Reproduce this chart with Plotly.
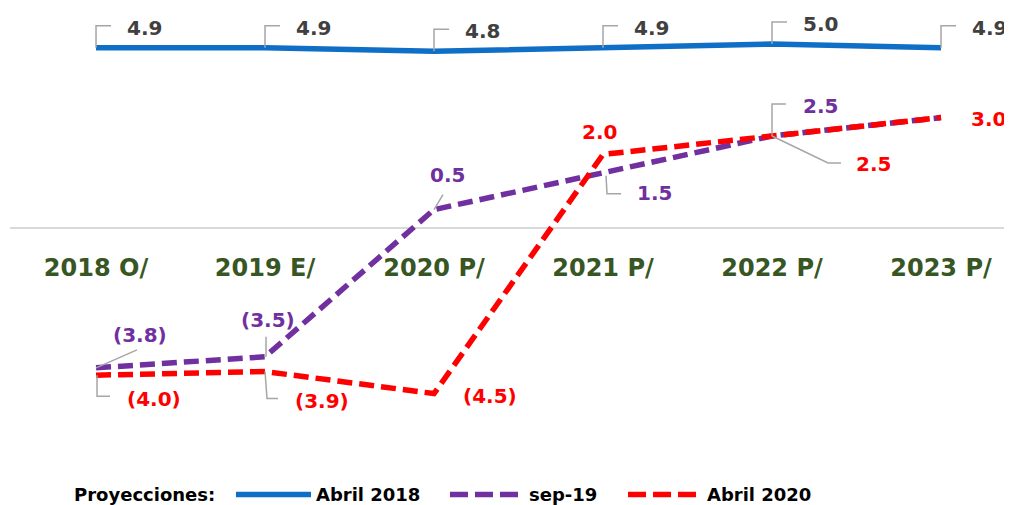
import plotly.graph_objects as go

# ---- data ----
categories = ["2018 O/", "2019 E/", "2020 P/", "2021 P/", "2022 P/", "2023 P/"]
abril_2018 = [4.9, 4.9, 4.8, 4.9, 5.0, 4.9]
sep_19 = [-3.8, -3.5, 0.5, 1.5, 2.5, 3.0]
abril_2020 = [-4.0, -3.9, -4.5, 2.0, 2.5, 3.0]
series_names = ["Abril 2018", "sep-19", "Abril 2020"]
legend_title = "Proyecciones:"

# ---- styles ----
colors = ["#0F6FC6", "#7030A0", "#FF0000"]
label_colors = ["#404040", "#7030A0", "#FF0000"]
dashes = ["solid", "15px,7px", "15px,7px"]
legend_dashes = ["solid", "18px,7px", "18px,7px"]
leader_color = "#A6A6A6"
FONT = "DejaVu Sans"

# label placement per series/point: (dx, dy, xanchor, leader path in px or None); None = no label
blue_lab = [(29, 20, "left", "M0,0 L0,22 L15,22")] * 6
purple_lab = [
    (44, 33, "center", "M0,0 L41,18"),
    (3, 37, "center", "M1,0 L1,20"),
    (13, 35, "center", "M0,0 L9,15"),
    (32, -20, "left", "M3,-3 L4,-21 L18,-21"),
    (29, 30, "left", "M0,0 L0,32 L14,32"),
    None,
]
red_lab = [
    (29, -24, "left", "M1,0 L1,-21 L14,-21"),
    (28, -29, "left", "M0,0 L2,-27 L13,-27"),
    (27, -2, "left", None),
    (-4, 22, "center", None),
    (82, -28, "left", "M0,0 L56,-27 L69,-27"),
    (28, -1, "left", None),
]

# manual legend layout (paper fractions)
leg_y = -0.0533
leg_title_x = 0.0619
leg_line_x = [(0.2255, 0.3004), (0.4391, 0.5090), (0.6168, 0.6886)]
leg_text_x = [0.3034, 0.5160, 0.6936]

series = [abril_2018, sep_19, abril_2020]
labels = [blue_lab, purple_lab, red_lab]
xs = list(range(len(categories)))


def fmt(v):
    return f"({abs(v):.1f})" if v < 0 else f"{v:.1f}"


fig = go.Figure()
for k, (vals, name) in enumerate(zip(series, series_names)):
    fig.add_trace(go.Scatter(
        x=xs, y=vals, name=name, mode="lines",
        line=dict(color=colors[k], width=5.5, dash=dashes[k]),
        hoverinfo="skip", showlegend=False,
    ))

annotations = []
shapes = []
for k, vals in enumerate(series):
    for i, v in enumerate(vals):
        spec = labels[k][i]
        if spec is None:
            continue
        dx, dy, anch, path = spec
        annotations.append(dict(
            x=xs[i], y=v, xref="x", yref="y", text=fmt(v), showarrow=False,
            xshift=dx, yshift=dy, xanchor=anch, yanchor="middle",
            font=dict(family=FONT, size=20, color=label_colors[k], weight="bold"),
        ))
        if path:
            shapes.append(dict(
                type="path", xref="x", yref="y", xsizemode="pixel", ysizemode="pixel",
                xanchor=xs[i], yanchor=v, path=path,
                line=dict(color=leader_color, width=1.5), layer="above",
            ))

# legend (key)
leg_font = dict(family=FONT, size=18, color="black", weight="bold")
annotations.append(dict(x=leg_title_x, y=leg_y, xref="paper", yref="paper", text=legend_title,
                        showarrow=False, xanchor="left", yanchor="middle", font=leg_font))
for k, name in enumerate(series_names):
    x0, x1 = leg_line_x[k]
    shapes.append(dict(type="line", xref="paper", yref="paper", x0=x0, x1=x1, y0=leg_y, y1=leg_y,
                       line=dict(color=colors[k], width=5.5, dash=legend_dashes[k])))
    annotations.append(dict(x=leg_text_x[k], y=leg_y, xref="paper", yref="paper", text=name,
                            showarrow=False, xanchor="left", yanchor="middle", font=leg_font))

fig.update_layout(
    width=1004, height=497,
    margin=dict(l=2, r=0, t=2, b=35, autoexpand=False),
    paper_bgcolor="white", plot_bgcolor="white",
    annotations=annotations, shapes=shapes,
    showlegend=False,
    xaxis=dict(
        range=[-0.509, 5.420], tickvals=xs, ticktext=categories,
        anchor="free", position=(462 - 220) / 460,
        showgrid=False, zeroline=False, showline=False, ticks="",
        ticklabelstandoff=23,
        tickfont=dict(family=FONT, size=24, color="#375623", weight="bold"),
    ),
    yaxis=dict(
        range=[-6.576, 5.924], showgrid=False, showticklabels=False,
        zeroline=True, zerolinecolor="#D9D9D9", zerolinewidth=2, ticks="",
    ),
)

fig.write_html("out.html")
